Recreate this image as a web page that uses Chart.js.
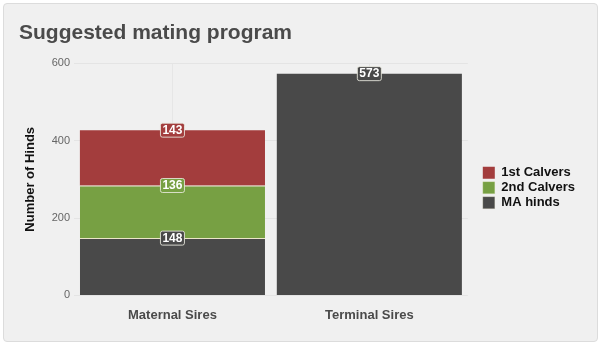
<!DOCTYPE html>
<html>
<head>
<meta charset="utf-8">
<script src="https://cdn.jsdelivr.net/npm/chart.js@4/dist/chart.umd.min.js"></script>
<style>
  body { margin: 0; background: #fff; }
  #panel {
    position: absolute; left: 3px; top: 3px; width: 593px; height: 337px;
    background: #f0f0f0; border: 1px solid #dcdcdc; border-radius: 4px;
  }
  #chart { position: absolute; left: 0; top: 0; }
</style>
</head>
<body>
<div id="panel"></div>
<canvas id="chart" width="600" height="346"></canvas>
<script>
// chart data
const categories = ['Maternal Sires', 'Terminal Sires'];
const maHinds = [148, 573];
const secondCalvers = [136, null];
const firstCalvers = [143, null];
const yTicks = [0, 200, 400, 600];

const colRed = '#a33d3d';
const colGreen = '#77a043';
const colDark = '#494949';
const font = '"Liberation Sans", Arial, sans-serif';

// light seam only between stacked segments
const seam = (c) => (c.dataIndex === 0 ? { top: 1, left: 0, right: 0, bottom: 0 } : 0);

// draws the little boxed value on top of each segment
const valueLabels = {
    id: 'valueLabels',
    afterDatasetsDraw(chart) {
        const ctx = chart.ctx;
        ctx.save();
        ctx.font = 'bold 12px ' + font;
        ctx.textAlign = 'center';
        ctx.textBaseline = 'middle';
        chart.data.datasets.forEach((ds, i) => {
            const meta = chart.getDatasetMeta(i);
            meta.data.forEach((bar, j) => {
                const v = ds.data[j];
                if (v === null || v === undefined) return;
                const txt = String(v);
                const w = ctx.measureText(txt).width + 4;
                const h = 14;
                ctx.beginPath();
                ctx.roundRect(bar.x - w / 2, bar.y - h / 2, w, h, 2);
                ctx.fillStyle = ds.backgroundColor;
                ctx.fill();
                ctx.lineWidth = 1;
                ctx.strokeStyle = 'rgba(235,235,225,0.85)';
                ctx.stroke();
                ctx.fillStyle = '#fff';
                ctx.fillText(txt, bar.x, bar.y + 0.5);
            });
        });
        ctx.restore();
    }
};

const ctx = document.getElementById('chart').getContext('2d');
const chart = new Chart(ctx, {
    type: 'bar',
    data: {
        labels: categories,
        datasets: [
            {
                label: 'MA hinds',
                data: maHinds,
                backgroundColor: colDark,
                borderColor: '#ece6c8',
                borderWidth: seam,
                borderSkipped: false
            },
            {
                label: '2nd Calvers',
                data: secondCalvers,
                backgroundColor: colGreen,
                borderColor: '#ece6c8',
                borderWidth: seam,
                borderSkipped: false
            },
            {
                label: '1st Calvers',
                data: firstCalvers,
                backgroundColor: colRed,
                borderWidth: 0
            }
        ]
    },
    options: {
        responsive: false,
        animation: false,
        categoryPercentage: 1,
        barPercentage: 0.94,
        layout: { padding: { left: 19, right: 15, top: 0, bottom: 11 } },
        scales: {
            x: {
                stacked: true,
                grid: { color: '#e6e6e6', offset: false, drawTicks: false },
                border: { display: false },
                ticks: {
                    color: '#4a4a4a',
                    padding: 12,
                    font: { family: font, size: 13, weight: 'bold' }
                }
            },
            y: {
                stacked: true,
                min: 0,
                max: 600,
                afterBuildTicks: (scale) => { scale.ticks = yTicks.map(v => ({ value: v })); },
                afterFit: (scale) => { scale.width = 55; },
                grid: { color: '#e4e4e4', drawTicks: false },
                border: { display: false },
                ticks: {
                    color: '#666',
                    padding: 4,
                    font: { family: font, size: 11 }
                },
                title: {
                    display: true,
                    text: 'Number of Hinds',
                    color: '#111',
                    padding: { top: 4, bottom: 4 },
                    font: { family: font, size: 13, weight: 'bold' }
                }
            },
            // empty axis on the right, just to leave a gap before the legend
            gap: {
                position: 'right',
                display: true,
                grid: { display: false },
                border: { display: false },
                ticks: { display: false },
                afterFit: (scale) => { scale.width = 13; }
            }
        },
        plugins: {
            title: {
                display: true,
                text: 'Suggested mating program',
                align: 'start',
                color: '#4a4a4a',
                padding: { top: 21, bottom: 17 },
                font: { family: font, size: 21, weight: 'bold' }
            },
            legend: {
                position: 'right',
                reverse: true,
                maxWidth: 130,
                title: { display: true, text: '', padding: { top: 0, bottom: 26 } },
                labels: {
                    boxWidth: 12,
                    boxHeight: 12,
                    padding: 2,
                    color: '#111',
                    font: { family: font, size: 13, weight: 'bold' }
                }
            },
            tooltip: { enabled: false }
        }
    },
    plugins: [valueLabels]
});
</script>
</body>
</html>
